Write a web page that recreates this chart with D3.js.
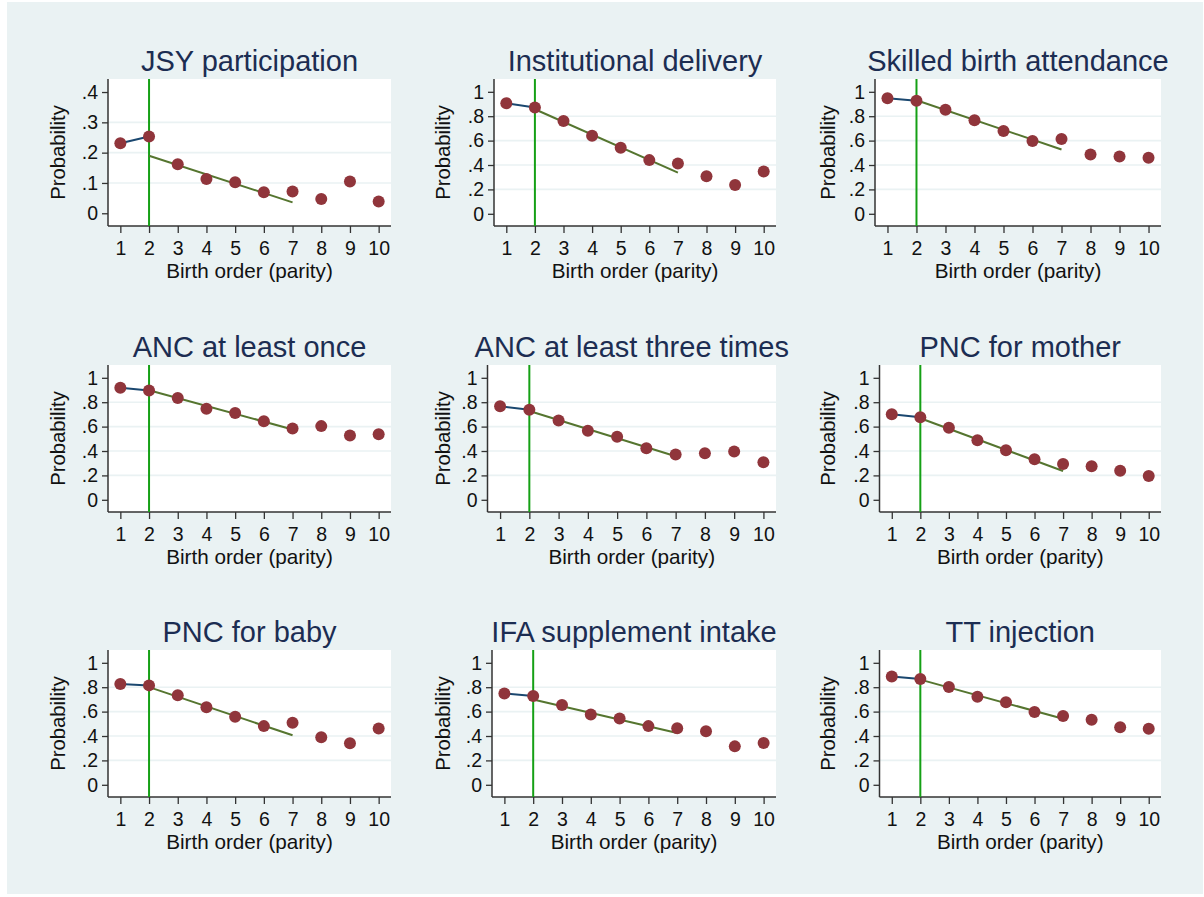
<!DOCTYPE html>
<html>
<head>
<meta charset="utf-8">
<script src="https://cdn.jsdelivr.net/npm/d3@7"></script>
<style>
  body { margin: 0; background: #fff; }
  svg text { font-family: "Liberation Sans", Arial, sans-serif; }
</style>
</head>
<body>
<div id="chart"></div>
<script>
// birth order 1..10
var parity = [1, 2, 3, 4, 5, 6, 7, 8, 9, 10];

var titles = ["JSY participation", "Institutional delivery", "Skilled birth attendance",
              "ANC at least once", "ANC at least three times", "PNC for mother",
              "PNC for baby", "IFA supplement intake", "TT injection"];

// predicted probabilities
var jsy     = [0.231, 0.253, 0.162, 0.113, 0.102, 0.069, 0.072, 0.047, 0.105, 0.039];
var instDel = [0.907, 0.871, 0.761, 0.640, 0.541, 0.440, 0.412, 0.308, 0.236, 0.346];
var skilled = [0.948, 0.926, 0.852, 0.766, 0.679, 0.596, 0.613, 0.486, 0.470, 0.459];
var ancOnce = [0.918, 0.896, 0.835, 0.747, 0.712, 0.643, 0.585, 0.604, 0.527, 0.538];
var ancThree= [0.766, 0.739, 0.651, 0.566, 0.516, 0.423, 0.371, 0.382, 0.396, 0.308];
var pncMom  = [0.701, 0.676, 0.591, 0.489, 0.407, 0.332, 0.294, 0.275, 0.239, 0.195];
var pncBaby = [0.826, 0.815, 0.735, 0.635, 0.558, 0.481, 0.508, 0.390, 0.340, 0.461];
var ifa     = [0.749, 0.727, 0.655, 0.577, 0.544, 0.481, 0.464, 0.439, 0.315, 0.343];
var tt      = [0.887, 0.867, 0.801, 0.721, 0.677, 0.597, 0.564, 0.533, 0.472, 0.459];

// fitted line from parity 2 to 7: [value at 2, value at 7]
var fitJsy = [0.190, 0.036], fitInst = [0.857, 0.338], fitSkilled = [0.931, 0.527],
    fitAnc1 = [0.898, 0.577], fitAnc3 = [0.728, 0.357], fitPncM = [0.668, 0.236],
    fitPncB = [0.801, 0.406], fitIfa = [0.699, 0.425], fitTT = [0.862, 0.541];
var fitRange = [2, 7];
var cutoff = 2;

var ticksJsy = [0, 0.1, 0.2, 0.3, 0.4];
var ticksProb = [0, 0.2, 0.4, 0.6, 0.8, 1];

var series = [jsy, instDel, skilled, ancOnce, ancThree, pncMom, pncBaby, ifa, tt];
var fits = [fitJsy, fitInst, fitSkilled, fitAnc1, fitAnc3, fitPncM, fitPncB, fitIfa, fitTT];

var w = 1204, h = 897;
var colW = 385;
var rowTop = [79, 365, 650];
var plotH = 147;
// plot-region left edges (differ a little per panel in the original)
var lefts = [[108, 494, 875], [108, 487.5, 879.5], [108, 492, 879.5]];
var rightOff = 391;

var svg = d3.select("#chart").append("svg")
    .attr("width", w).attr("height", h);

svg.append("rect")
    .attr("x", 7).attr("y", 2).attr("width", 1196).attr("height", 892)
    .attr("fill", "#eaf2f3");

function fmt(v) {
  if (v === 0) return "0";
  if (v === 1) return "1";
  return d3.format(".1f")(v).replace(/^0/, "");
}

series.forEach(function(vals, i) {
  var r = Math.floor(i / 3), c = i % 3;
  var left = lefts[r][c], right = c * colW + rightOff;
  var top = rowTop[r], bottom = top + plotH;
  var isJsy = (i === 0);
  var yt = isJsy ? ticksJsy : ticksProb;

  var x = d3.scaleLinear().domain([0.57, 10.43]).range([left, right]);
  var y = d3.scaleLinear().domain(isJsy ? [-0.042, 0.443] : [-0.1, 1.105]).range([bottom, top]);

  var g = svg.append("g");

  g.append("rect")
    .attr("x", left).attr("y", top)
    .attr("width", right - left).attr("height", plotH)
    .attr("fill", "#fff");

  // grid lines (not at min and max labels)
  g.selectAll(".grid").data(yt.slice(1, -1)).enter().append("line")
    .attr("x1", left).attr("x2", right)
    .attr("y1", function(d) { return y(d); })
    .attr("y2", function(d) { return y(d); })
    .attr("stroke", "#eaf2f3").attr("stroke-width", 1.6);

  var yAxis = d3.axisLeft(y).tickValues(yt).tickFormat(fmt).tickSize(6).tickPadding(4);
  var xAxis = d3.axisBottom(x).tickValues(parity).tickSize(7).tickPadding(10);

  var ya = g.append("g").attr("transform", "translate(" + left + ",0)").call(yAxis);
  var xa = g.append("g").attr("transform", "translate(0," + bottom + ")").call(xAxis);
  [ya, xa].forEach(function(a) {
    a.select(".domain").attr("stroke", "#333").attr("stroke-width", 1.5)
      .attr("d", a === ya ? "M0," + top + "V" + bottom : "M" + left + ",0H" + right);
    a.selectAll(".tick line").attr("stroke", "#333").attr("stroke-width", 1.3);
    a.selectAll(".tick text").attr("font-size", 19.5).attr("fill", "#111")
      .style("font-family", "'Liberation Sans', Arial, sans-serif");
  });
  xa.selectAll(".tick text").attr("dy", "0.62em");

  // vertical line at the cutoff
  g.append("line")
    .attr("x1", x(cutoff)).attr("x2", x(cutoff))
    .attr("y1", top).attr("y2", bottom)
    .attr("stroke", "#15a015").attr("stroke-width", 2);

  // line joining the first two points
  g.append("path")
    .datum(parity.slice(0, 2).map(function(p, k) { return [p, vals[k]]; }))
    .attr("d", d3.line().x(function(d) { return x(d[0]); }).y(function(d) { return y(d[1]); }))
    .attr("fill", "none").attr("stroke", "#1a476f").attr("stroke-width", 2);

  // fitted line
  var f = fits[i];
  g.append("path")
    .datum([[fitRange[0], f[0]], [fitRange[1], f[1]]])
    .attr("d", d3.line().x(function(d) { return x(d[0]); }).y(function(d) { return y(d[1]); }))
    .attr("fill", "none").attr("stroke", "#55752f").attr("stroke-width", 2);

  g.selectAll("circle").data(vals).enter().append("circle")
    .attr("cx", function(d, k) { return x(parity[k]); })
    .attr("cy", function(d) { return y(d); })
    .attr("r", 6)
    .attr("fill", "#90353b");

  // titles
  g.append("text")
    .attr("x", (left + right) / 2).attr("y", top - 8)
    .attr("text-anchor", "middle")
    .attr("font-size", 29).attr("fill", "#1c2d52")
    .text(titles[i]);

  g.append("text")
    .attr("x", (left + right) / 2).attr("y", bottom + 52)
    .attr("text-anchor", "middle")
    .attr("font-size", 20.7).attr("fill", "#111")
    .text("Birth order (parity)");

  g.append("text")
    .attr("transform", "translate(" + (c * colW + 65) + "," + ((top + bottom) / 2) + ") rotate(-90)")
    .attr("text-anchor", "middle")
    .attr("font-size", 20.3).attr("fill", "#111")
    .text("Probability");
});
</script>
</body>
</html>
